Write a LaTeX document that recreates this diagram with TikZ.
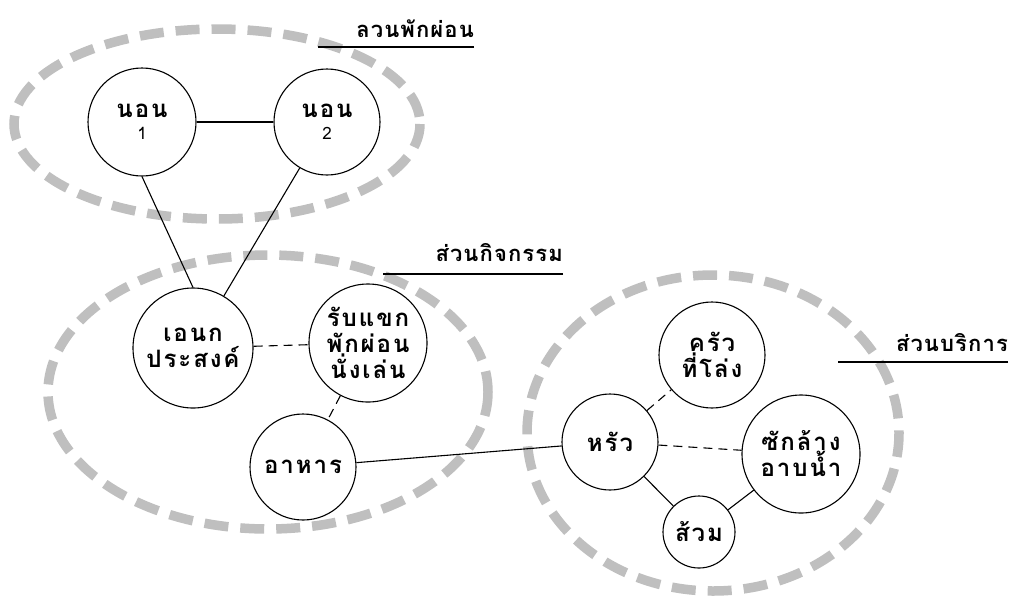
\documentclass[tikz,border=0pt]{standalone}
\usepackage{fontspec}
\newfontfamily\thai[Script=Thai]{Loma}
\newfontfamily\thaisp[Script=Thai,LetterSpace=8]{Loma}
\newfontfamily\thailab[Script=Thai,LetterSpace=5]{Loma}
\usetikzlibrary{calc}
\tikzset{
  room/.style={circle,draw=black,line width=1.1pt,fill=white,inner sep=0pt,align=center,font=\thaisp\bfseries\fontsize{24}{26}\selectfont},
  zone/.style={draw=gray!50,line width=9.5pt,dash pattern=on 24pt off 12pt},
  solidlink/.style={draw=black,line width=1.1pt},
  dashlink/.style={draw=black,line width=1.1pt,dash pattern=on 9pt off 6pt},
  zonelabel/.style={font=\thailab\bfseries\fontsize{22}{24}\selectfont,inner sep=0pt},
  underline/.style={draw=black,line width=1.8pt}
}
\begin{document}
\begin{tikzpicture}[x=1pt,y=-1pt]
\useasboundingbox (0,0) rectangle (1011,598);
% zones
\draw[zone] (217,124) ellipse [x radius=203,y radius=95];
\draw[zone] (268,392) ellipse [x radius=220,y radius=137];
\draw[zone] (713,433) ellipse [x radius=186,y radius=158];
% rooms
\node[room,minimum size=108pt] (n1) at (142,122) {นอน\\[-4pt]{\thai\mdseries\fontsize{17}{18}\selectfont 1}};
\node[room,minimum size=106pt] (n2) at (327,122) {นอน\\[-4pt]{\thai\mdseries\fontsize{17}{18}\selectfont 2}};
\node[room,minimum size=120pt] (multi) at (193,348) {เอนก\\ประสงค์};
\node[room,minimum size=118pt] (living) at (368,343) {รับแขก\\พักผ่อน\\นั่งเล่น};
\node[room,minimum size=106pt] (food) at (303,467) {อาหาร};
\node[room,minimum size=106pt] (open) at (712,355) {ครัว\\ที่โล่ง};
\node[room,minimum size=96pt] (kitchen) at (610,442) {หรัว};
\node[room,minimum size=118pt] (wash) at (801,454) {ซักล้าง\\อาบน้ำ};
\node[room,minimum size=72pt] (wc) at (699,532) {ส้วม};
% links
\draw[solidlink] (n1) -- (n2);
\draw[solidlink] (n1.south) -- (multi.north);
\draw[solidlink] (n2) -- (multi);
\draw[dashlink] (multi) -- (living);
\draw[dashlink] (living) -- (food);
\draw[solidlink] (food) -- (kitchen);
\draw[dashlink] (kitchen) -- (open);
\draw[dashlink] (kitchen) -- (wash);
\draw[solidlink] (kitchen) -- (wc);
\draw[solidlink] (wc) -- (wash);
% zone labels
\node[zonelabel,anchor=base east] (l1) at (474,37) {ลวนพักผ่อน};
\draw[underline] ($(l1.base east)+(0,10)$) -- ++(-156,0);
\node[zonelabel,anchor=base east] (l2) at (563,261) {ส่วนกิจกรรม};
\draw[underline] ($(l2.base east)+(0,13)$) -- ++(-180,0);
\node[zonelabel,anchor=base east] (l3) at (1008,351) {ส่วนบริการ};
\draw[underline] ($(l3.base east)+(0,11)$) -- ++(-170,0);
\end{tikzpicture}
\end{document}
